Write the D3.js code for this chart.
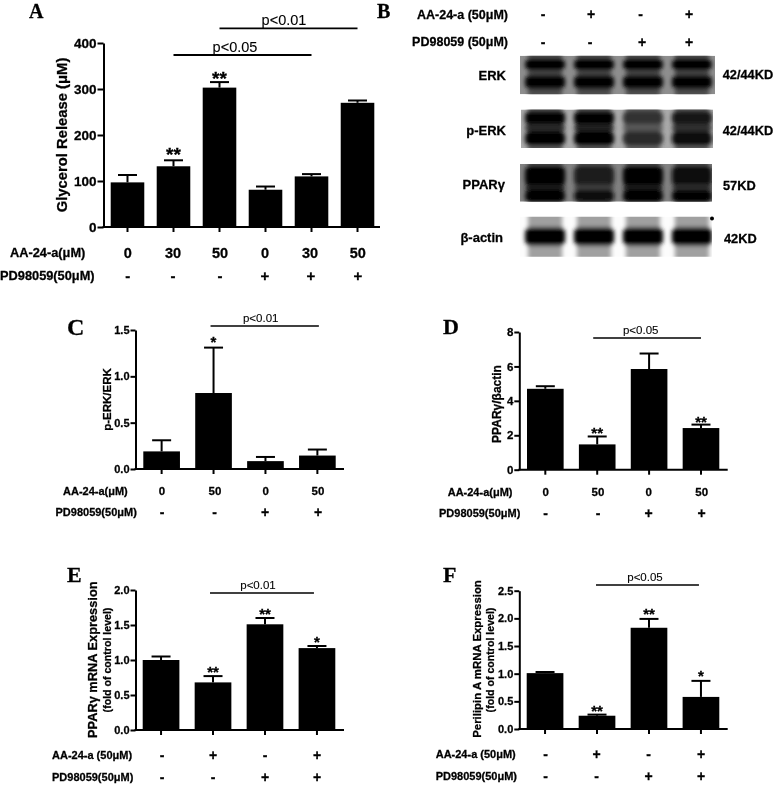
<!DOCTYPE html>
<html><head><meta charset="utf-8">
<script src="https://cdn.jsdelivr.net/npm/d3@7/dist/d3.min.js"></script>
<style>
html,body{margin:0;padding:0;background:#fff}
svg{display:block;filter:blur(0.45px)}
text{font-family:"Liberation Sans",Arial,sans-serif;font-weight:700;fill:#000;stroke:#000;stroke-width:.28px}
.p{font-weight:400;stroke-width:.1px}
.letter{font-family:"Liberation Serif",serif;font-weight:700}
</style></head><body>
<svg id="c" width="778" height="785"></svg>
<script>
// ---- data ----
const aValues=[97,132,303,81,110,270], aTops=[113,145,315,88,115,275];
const aDose=["0","30","50","0","30","50"], aPd=["-","-","-","+","+","+"], aStars=["","**","**","","",""], aTicks=[0,100,200,300,400];
const cValues=[0.19,0.82,0.085,0.145], cTops=[0.31,1.31,0.13,0.21];
const cDose=["0","50","0","50"], cPd=["-","-","+","+"], cStars=["","*","",""], cTicks=[0,0.5,1,1.5];
const dValues=[4.7,1.47,5.85,2.42], dTops=[4.85,1.93,6.75,2.62];
const dDose=["0","50","0","50"], dPd=["-","-","+","+"], dStars=["","**","","**"], dTicks=[0,2,4,6,8];
const eValues=[1.0,0.68,1.51,1.17], eTops=[1.05,0.77,1.6,1.2];
const eAA=["-","+","-","+"], ePd=["-","-","+","+"], eStars=["","**","**","*"], eTicks=[0,0.5,1,1.5,2];
const fValues=[1.01,0.24,1.83,0.58], fTops=[1.03,0.26,1.99,0.87];
const fAA=["-","+","-","+"], fPd=["-","-","+","+"], fStars=["","**","**","*"], fTicks=[0,0.5,1,1.5,2,2.5];
// blot band densities per lane
const erkLevels=[[1,1],[1,1],[1,1],[1,1]];
const perkLevels=[[1,.62,1],[1,.68,1],[.55,.2,.62],[.8,.55,.88]];
const pparLevels=[[1,.72,1],[.72,.3,.88],[1,.72,1],[.92,.5,1]];
const actinLevels=[[1],[1],[1],[1]];
const blotAA=["-","+","-","+"], blotPd=["-","-","+","+"];

// ---- layout ----
const svg=d3.select("#c");
const defs=svg.append("defs");
function T(g,x,y,s,size,anchor,cls){
  return g.append("text").attr("x",x).attr("y",y).attr("dy",".35em").attr("font-size",size)
    .attr("text-anchor",anchor||"middle").attr("class",cls||null).text(s);
}
function letter(s,x,y,size){
  svg.append("text").attr("class","letter").attr("x",x).attr("y",y).attr("font-size",size).text(s);
}
function panel(o){
  const g=svg.append("g");
  const n=o.values.length;
  const x=d3.scaleBand().domain(d3.range(n)).range(o.xr).paddingInner(o.pad);
  const y=d3.scaleLinear().domain([0,o.ticks[o.ticks.length-1]]).range([o.y0,o.y1]);
  const bw=x.bandwidth(), cx=i=>x(i)+bw/2;
  // error bars
  g.selectAll(".stem").data(o.tops).join("line").attr("x1",(d,i)=>cx(i)).attr("x2",(d,i)=>cx(i))
    .attr("y1",(d,i)=>y(o.values[i])).attr("y2",d=>y(d)).attr("stroke","#000").attr("stroke-width",2);
  g.selectAll(".cap").data(o.tops).join("line").attr("x1",(d,i)=>cx(i)-9.5).attr("x2",(d,i)=>cx(i)+9.5)
    .attr("y1",d=>y(d)).attr("y2",d=>y(d)).attr("stroke","#000").attr("stroke-width",2);
  // bars
  g.selectAll(".bar").data(o.values).join("rect").attr("x",(d,i)=>x(i)).attr("width",bw)
    .attr("y",d=>y(d)).attr("height",d=>y(0)-y(d)).attr("fill","#000");
  // axes
  const ay=g.append("g").attr("transform",`translate(${o.ax},0)`)
    .call(d3.axisLeft(y).tickValues(o.ticks).tickFormat(o.fmt).tickSize(o.tick||5).tickSizeOuter(0).tickPadding(1));
  ay.selectAll("path,line").attr("stroke","#000").attr("stroke-width",2);
  ay.selectAll("text").attr("font-size",o.tickFont).style("font-family",'"Liberation Sans",Arial,sans-serif').attr("fill","#000");
  const ab=g.append("g").attr("transform",`translate(0,${o.y0})`)
    .call(d3.axisBottom(x).tickFormat("").tickSize(5).tickSizeOuter(0));
  ab.select("path").remove();
  ab.selectAll("line").attr("stroke","#000").attr("stroke-width",2);
  g.append("line").attr("x1",o.ax-1).attr("x2",o.baseEnd).attr("y1",o.y0).attr("y2",o.y0).attr("stroke","#000").attr("stroke-width",2);
  // y labels
  o.labels.forEach(l=>{
    g.append("text").attr("transform",`translate(${l.x},${l.y}) rotate(-90)`).attr("dy",".35em")
      .attr("text-anchor","middle").attr("font-size",l.size).text(l.s);
  });
  // stars
  o.stars.forEach((s,i)=>{ if(s) T(g,cx(i)+o.starDx,o.starY[i],s,o.starFont).attr("dy",".42em"); });
  // rows
  o.rows.forEach(r=>{
    T(g,r.lx,r.y,r.label,r.labelFont,"start");
    r.vals.forEach((v,i)=>T(g,r.xs?r.xs[i]:cx(i)+o.rowDx,r.y,v,r.font));
  });
  // significance
  o.sig.forEach(s=>{
    g.append("line").attr("x1",cx(s.a)+(s.da||0)).attr("x2",cx(s.b)+(s.db||0)).attr("y1",s.y).attr("y2",s.y)
      .attr("stroke","#000").attr("stroke-width",s.w||1.6);
    g.append("text").attr("class","p").attr("x",s.tx).attr("y",s.ty).attr("text-anchor","middle").attr("font-size",s.size).text(s.s);
  });
}
const f1=d3.format(".1f");
// A
panel({values:aValues,tops:aTops,ticks:aTicks,fmt:d3.format("d"),xr:[110.7,374.3],pad:.27,y0:227,y1:43,ax:103.5,baseEnd:380,tick:6,tickFont:13.5,
  labels:[{s:"Glycerol Release (μM)",x:62,y:135,size:14.8}],
  stars:aStars,starY:[0,153,77],starFont:19,starDx:0,rowDx:0,
  rows:[{label:"AA-24-a(μM)",lx:10,y:253,labelFont:12.8,vals:aDose,font:14.5,xs:[127.7,173,220,265,310,357.7]},
        {label:"PD98059(50μM)",lx:0,y:276,labelFont:12.8,vals:aPd,font:15,xs:[127.7,173,220,265,311,358]}],
  sig:[{a:2,b:5,y:28.3,tx:284,ty:25,s:"p<0.01",size:14.5,w:1.8},{a:1,b:4,y:55,tx:235,ty:51.5,s:"p<0.05",size:14.5,w:1.8}]});
// C
panel({values:cValues,tops:cTops,ticks:cTicks,fmt:f1,xr:[143.3,335.7],pad:.294,y0:469,y1:330,ax:135.5,baseEnd:344,tickFont:11,
  labels:[{s:"p-ERK/ERK",x:106.7,y:399.5,size:11.5}],
  stars:cStars,starY:[0,341],starFont:15,starDx:0,rowDx:0,
  rows:[{label:"AA-24-a(μM)",lx:63,y:490.7,labelFont:11,vals:cDose,font:11.5,xs:[162,215,265.7,318]},
        {label:"PD98059(50μM)",lx:55.5,y:512.5,labelFont:11,vals:cPd,font:14,xs:[162,214.5,265,318]}],
  sig:[{a:1,b:3,da:-3,db:1.5,y:326,tx:260.7,ty:321.7,s:"p<0.01",size:11.5,w:1.3}]});
// D
panel({values:dValues,tops:dTops,ticks:dTicks,fmt:d3.format("d"),xr:[527,719.3],pad:.294,y0:469.7,y1:332,ax:519.3,baseEnd:727.7,tickFont:11.5,
  labels:[{s:"PPARγ/βactin",x:497,y:404,size:12}],
  stars:dStars,starY:[0,432,0,420.7],starFont:15,starDx:0,rowDx:0,
  rows:[{label:"AA-24-a(μM)",lx:447.7,y:491.7,labelFont:11,vals:dDose,font:11.5,xs:[545.7,598,648.7,701.7]},
        {label:"PD98059(50μM)",lx:439,y:513,labelFont:11,vals:dPd,font:14,xs:[545.7,598,648.7,701.7]}],
  sig:[{a:1,b:3,da:-4,db:0,y:338,tx:640.7,ty:334,s:"p<0.05",size:11.5,w:1.3}]});
// E
panel({values:eValues,tops:eTops,ticks:eTicks,fmt:f1,xr:[142.7,335.3],pad:.294,y0:730,y1:590,ax:135.5,baseEnd:344,tickFont:11,
  labels:[{s:"PPARγ  mRNA Expression",x:92.7,y:659.7,size:12.8},{s:"(fold of control level)",x:107,y:660,size:10.6}],
  stars:eStars,starY:[0,670.7,613,640.7],starFont:15,starDx:0,rowDx:0,
  rows:[{label:"AA-24-a (50μM)",lx:52,y:755.5,labelFont:11,vals:eAA,font:14,xs:[162,213,265,317]},
        {label:"PD98059(50μM)",lx:52,y:776.7,labelFont:11,vals:ePd,font:14,xs:[162,213,265,317]}],
  sig:[{a:1,b:3,da:-3,db:-3,y:593,tx:258,ty:589,s:"p<0.01",size:11.5,w:1.3}]});
// F
panel({values:fValues,tops:fTops,ticks:fTicks,fmt:f1,xr:[526.7,719.3],pad:.294,y0:729,y1:590.7,ax:519.3,baseEnd:727.7,tickFont:11,
  labels:[{s:"Perilipin A mRNA Expression",x:476.7,y:659,size:11.4},{s:"(fold of control level)",x:490.7,y:660,size:10.6}],
  stars:fStars,starY:[0,710,613,675],starFont:15,starDx:0,rowDx:0,
  rows:[{label:"AA-24-a (50μM)",lx:435.7,y:754,labelFont:11,vals:fAA,font:14,xs:[545.7,596.7,648.7,701]},
        {label:"PD98059(50μM)",lx:435.7,y:775.7,labelFont:11,vals:fPd,font:14,xs:[545.7,596.7,648.7,701]}],
  sig:[{a:1,b:3,da:-1,db:-2,y:585,tx:645,ty:581,s:"p<0.05",size:11.5,w:1.3}]});
// letters
letter("A",29,18,20);letter("B",377,18,20);letter("C",67,335,24);letter("D",443,334,22);letter("E",67,582,22);letter("F",443,582,22);

// ---- Panel B blots ----
defs.append("filter").attr("id","bl").attr("x","-10%").attr("y","-30%").attr("width","120%").attr("height","160%")
  .append("feGaussianBlur").attr("stdDeviation",2.1);
const lane=d3.scaleBand().domain(d3.range(4)).range([526,711]).paddingInner(.22);
const blots=[
 {id:"erk",x:520,x2:715,y0:55.7,y1:94.3,bg:142,laneBg:100,levels:erkLevels,bandY:[64.5,82],bandH:[12.5,14.5]},
 {id:"perk",x:521,x2:713,y0:109.5,y1:148,bg:170,laneBg:110,levels:perkLevels,bandY:[118,128,138.5],bandH:[15,8,15]},
 {id:"ppar",x:520,x2:712,y0:164,y1:201.7,bg:130,laneBg:95,levels:pparLevels,bandY:[176,188,196],bandH:[21,6,13]},
 {id:"actin",x:520,x2:712,y0:216.7,y1:256.7,bg:252,laneBg:200,levels:actinLevels,bandY:[236.5],bandH:[19]}
];
blots.forEach(b=>{
  defs.append("clipPath").attr("id","cp"+b.id).append("rect").attr("x",b.x).attr("y",b.y0).attr("width",b.x2-b.x).attr("height",b.y1-b.y0);
  const outer=svg.append("g").attr("clip-path",`url(#cp${b.id})`);
  outer.append("rect").attr("x",b.x).attr("y",b.y0).attr("width",b.x2-b.x).attr("height",b.y1-b.y0).attr("fill",d3.rgb(b.bg,b.bg,b.bg));
  const g=outer.append("g").attr("filter","url(#bl)");
  const shade=d3.scaleLinear().domain([0,1]).range([b.laneBg,0]);
  b.levels.forEach((lv,i)=>{
    const mean=d3.mean(lv), lbg=shade(mean*.2);
    g.append("rect").attr("x",lane(i)+2).attr("width",lane.bandwidth()-4).attr("y",b.y0-6).attr("height",b.y1-b.y0+12)
      .attr("fill",d3.rgb(lbg,lbg,lbg));
    lv.forEach((d,j)=>{
      const c=shade(d);
      g.append("rect").attr("x",lane(i)-1).attr("width",lane.bandwidth()+2).attr("rx",6)
       .attr("y",b.bandY[j]-b.bandH[j]/2).attr("height",b.bandH[j]).attr("fill",d3.rgb(c,c,c));
    });
  });
});
svg.append("circle").attr("cx",712).attr("cy",218.5).attr("r",2).attr("fill","#000");
const bg=svg.append("g");
const blotX=[[543,591,640.7,689],[543,590,642,689]];
T(bg,508,15,"AA-24-a (50μM)",12.5,"end");
T(bg,508,42,"PD98059 (50μM)",12.5,"end");
blotAA.forEach((v,i)=>T(bg,blotX[0][i],14.5,v,14));
blotPd.forEach((v,i)=>T(bg,blotX[1][i],42,v,14));
T(bg,506,75,"ERK",13,"end");T(bg,506,130,"p-ERK",13,"end");T(bg,505,184,"PPARγ",13,"end");T(bg,503,237.5,"β-actin",13,"end");
T(bg,722.7,75,"42/44KD",12.8,"start");T(bg,722.7,131,"42/44KD",12.8,"start");T(bg,723,186,"57KD",12.8,"start");T(bg,724,239,"42KD",12.8,"start");
</script>
</body></html>
